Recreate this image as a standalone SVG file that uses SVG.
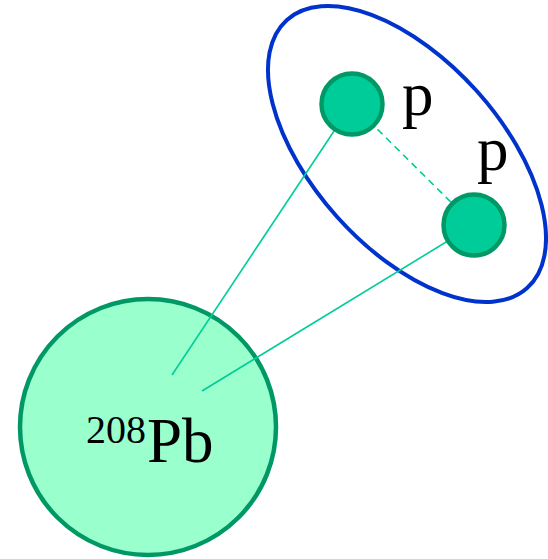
<svg xmlns="http://www.w3.org/2000/svg" width="548" height="559" viewBox="0 0 548 559">
<style>
.conn{stroke:#00CC99;stroke-width:1.6;fill:none}
.dash{stroke-dasharray:7 5}
.proton{fill:#00CC99;stroke:#009966;stroke-width:4.5}
.nucleus{fill:#99FFCC;stroke:#009966;stroke-width:4.5}
.lbl{font-family:"Liberation Serif","Times New Roman",serif;fill:#000}
</style>
<rect width="548" height="559" fill="#fff"/>
<g id="pair">
<ellipse cx="407" cy="154" rx="180" ry="94" transform="rotate(48.15 407 154)" fill="none" stroke="#0033CC" stroke-width="4"/>
</g>
<g id="nucleus">
<circle class="nucleus" cx="148" cy="427" r="128"/>
<text class="lbl" x="86" y="443" font-size="40">208</text>
<text class="lbl" x="147" y="462" font-size="63">Pb</text>
</g>
<g id="connectors">
<line class="conn" x1="172" y1="375" x2="352" y2="104"/>
<line class="conn" x1="202" y1="391" x2="474" y2="225"/>
<line class="conn dash" x1="352" y1="104" x2="474" y2="225"/>
</g>
<g id="proton1">
<circle class="proton" cx="352" cy="104" r="30.5"/>
<text class="lbl" x="402" y="115" font-size="63">p</text>
</g>
<g id="proton2">
<circle class="proton" cx="474" cy="225" r="30.5"/>
<text class="lbl" x="477" y="170" font-size="63">p</text>
</g>
</svg>
